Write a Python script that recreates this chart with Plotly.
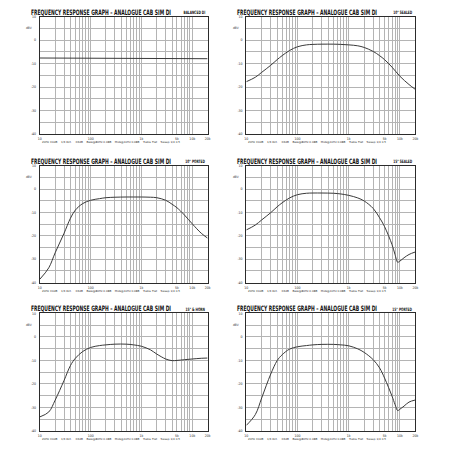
import json

import plotly.graph_objects as go
from plotly.subplots import make_subplots

# frequency points (Hz) and responses (dB)
freq_std = [10, 15, 20, 30, 40, 50, 70, 100, 150, 200, 300, 500, 700, 1000,
            1500, 2000, 3000, 4000, 5000, 7000, 10000, 15000, 20000]
freq_notch = [10, 15, 20, 30, 40, 50, 70, 100, 150, 200, 300, 500, 700, 1000,
              1500, 2000, 3000, 4000, 5000, 7000, 8000, 9000, 10000, 12000,
              15000, 20000]

balanced_freq = [10, 20000]
balanced_db = [-7.6, -7.9]

sealed_10_db = [-17.7, -15.8, -13.7, -10.7, -8.3, -6.6, -4.4, -2.8, -2.0, -1.8,
                -1.7, -1.7, -1.8, -2.0, -2.4, -3.1, -4.8, -6.6, -8.3, -11.5,
                -15.4, -18.9, -21.0]
ported_10_db = [-38.6, -33.7, -27.3, -18.9, -12.5, -9.0, -6.2, -4.8, -4.1, -3.7,
                -3.5, -3.4, -3.4, -3.4, -3.5, -3.7, -4.8, -6.5, -8.0, -11.1,
                -14.9, -18.9, -21.0]
sealed_15_db = [-17.5, -15.4, -13.2, -10.1, -7.6, -5.9, -3.8, -2.4, -1.8, -1.7,
                -1.7, -1.8, -2.1, -2.7, -3.8, -5.1, -8.3, -12.3, -16.1, -23.8,
                -28.0, -31.3, -30.8, -29.4, -28.0, -26.9]
horn_15_db = [-34.0, -31.9, -26.9, -18.5, -12.2, -9.1, -6.2, -4.5, -3.7, -3.4,
              -3.1, -3.1, -3.4, -4.0, -5.5, -7.3, -9.4, -10.1, -10.0, -9.7,
              -9.4, -9.1, -9.0]
ported_15_db = [-37.6, -33.0, -25.9, -15.8, -10.1, -7.6, -5.2, -4.2, -3.7, -3.4,
                -3.2, -3.2, -3.4, -3.8, -5.1, -6.6, -9.7, -13.2, -17.5, -25.2,
                -28.7, -31.3, -30.7, -29.4, -27.7, -26.8]

panel_labels = ['BALANCED DI', '10" SEALED', '10" PORTED',
                '15" SEALED', '15" & HORN', '15" PORTED']
panel_freqs = [balanced_freq, freq_std, freq_std, freq_notch, freq_std, freq_notch]
panel_dbs = [balanced_db, sealed_10_db, ported_10_db, sealed_15_db, horn_15_db,
             ported_15_db]

title_text = "FREQUENCY RESPONSE GRAPH – ANALOGUE CAB SIM DI"
footer_text = ("20Hz ±0dB    1/3 Oct.    ±6dB    Bass@80Hz 0.08B    "
               "Mids@1kHz 0.08B    Treble Flat    Sweep 1/4 0.5")

# grid lines: every 1-9 per decade, labels on a few
grid_freqs = [m * 10 ** e for e in range(1, 5) for m in range(1, 10)] + [20000]
freq_labels = {10: "10", 100: "100", 1000: "1k", 5000: "5k", 10000: "10k",
               20000: "20k"}
grid_db = [10, 5, 0, -5, -10, -15, -20, -25, -30, -35, -40]
db_labels = {10: "10", 0: "0", -10: "-10", -20: "-20", -30: "-30", -40: "-40"}

ink = "#2b2b2b"
grid_col = "#b4b4b4"
cond = "DejaVu Sans Condensed, DejaVu Sans, sans-serif"

x_domains = [[0.085, 0.462], [0.549, 0.929]]
y_domains = [[0.704, 0.967], [0.371, 0.633], [0.038, 0.302]]

fig = make_subplots(rows=3, cols=2)

for i in range(6):
    row, col = i // 2 + 1, i % 2 + 1
    fig.add_trace(
        go.Scatter(
            x=panel_freqs[i],
            y=panel_dbs[i],
            mode="lines",
            line=dict(color="#3a3a3a", width=1, shape="spline", smoothing=1.0),
            showlegend=False,
            hoverinfo="skip",
        ),
        row=row,
        col=col,
    )
    fig.update_xaxes(
        type="log",
        range=[1, 4.30103],
        tickvals=grid_freqs,
        ticktext=[freq_labels.get(f, "") for f in grid_freqs],
        tickfont=dict(size=3.5, color=ink, family=cond),
        ticks="",
        ticklabelstandoff=1,
        showgrid=True,
        gridcolor=grid_col,
        gridwidth=0.6,
        showline=True,
        mirror=True,
        linecolor=ink,
        linewidth=1,
        zeroline=False,
        domain=x_domains[col - 1],
        row=row,
        col=col,
    )
    fig.update_yaxes(
        range=[-40, 10],
        tickvals=grid_db,
        ticktext=[db_labels.get(d, "") for d in grid_db],
        tickfont=dict(size=3.5, color=ink, family=cond),
        ticks="",
        ticklabelstandoff=2,
        showgrid=True,
        gridcolor=grid_col,
        gridwidth=0.6,
        showline=True,
        mirror=True,
        linecolor=ink,
        linewidth=1,
        zeroline=False,
        domain=y_domains[row - 1],
        row=row,
        col=col,
    )

    xd = x_domains[col - 1]
    yd = y_domains[row - 1]
    # panel heading (squeezed to a condensed look after drawing, see below)
    fig.add_annotation(
        x=xd[0] - 0.025, y=yd[1] + 0.01, xref="paper", yref="paper",
        text=title_text, showarrow=False, align="left",
        xanchor="left", yanchor="middle",
        font=dict(size=7.4, color="#111111", family=cond, weight=700),
    )
    fig.add_annotation(
        x=xd[1], y=yd[1] + 0.009, xref="paper", yref="paper",
        text=panel_labels[i], showarrow=False, align="right",
        xanchor="right", yanchor="middle",
        font=dict(size=4.6, color="#111111", family=cond, weight=700),
    )
    # unit label beside the axis
    fig.add_annotation(
        x=xd[0] - 0.012, y=yd[0] + (yd[1] - yd[0]) * 0.9, xref="paper",
        yref="paper", text="dBV", showarrow=False, xanchor="right",
        yanchor="middle", font=dict(size=3.2, color=ink, family=cond),
    )
    # spec line under the graph
    fig.add_annotation(
        x=xd[0], y=yd[0] - 0.018, xref="paper", yref="paper",
        text=footer_text, showarrow=False, align="left",
        xanchor="left", yanchor="middle",
        font=dict(size=2.8, color=ink, family=cond),
    )

fig.update_layout(
    width=450,
    height=450,
    margin=dict(l=0, r=0, t=0, b=0),
    paper_bgcolor="white",
    plot_bgcolor="white",
    showlegend=False,
)

# condensed lettering: squeeze headings / spec line with svg textLength,
# and drop the page body's default 8px margin
squeeze_js = """
document.body.style.margin = '0';
var TITLE = %s, FOOTER = %s, LABELS = %s;
document.querySelectorAll('text.annotation-text').forEach(function (t) {
  var s = t.textContent, w = null;
  if (s === TITLE) { w = 140; }
  else if (s === FOOTER) { w = 138; }
  else if (LABELS.indexOf(s) >= 0) { w = t.getComputedTextLength() * 0.7; }
  if (w) {
    t.setAttribute('textLength', w.toFixed(1));
    t.setAttribute('lengthAdjust', 'spacingAndGlyphs');
  }
});
""" % (json.dumps(title_text), json.dumps(footer_text), json.dumps(panel_labels))

fig.write_html(
    "out.html",
    config={"displayModeBar": False},
    post_script=squeeze_js,
)
